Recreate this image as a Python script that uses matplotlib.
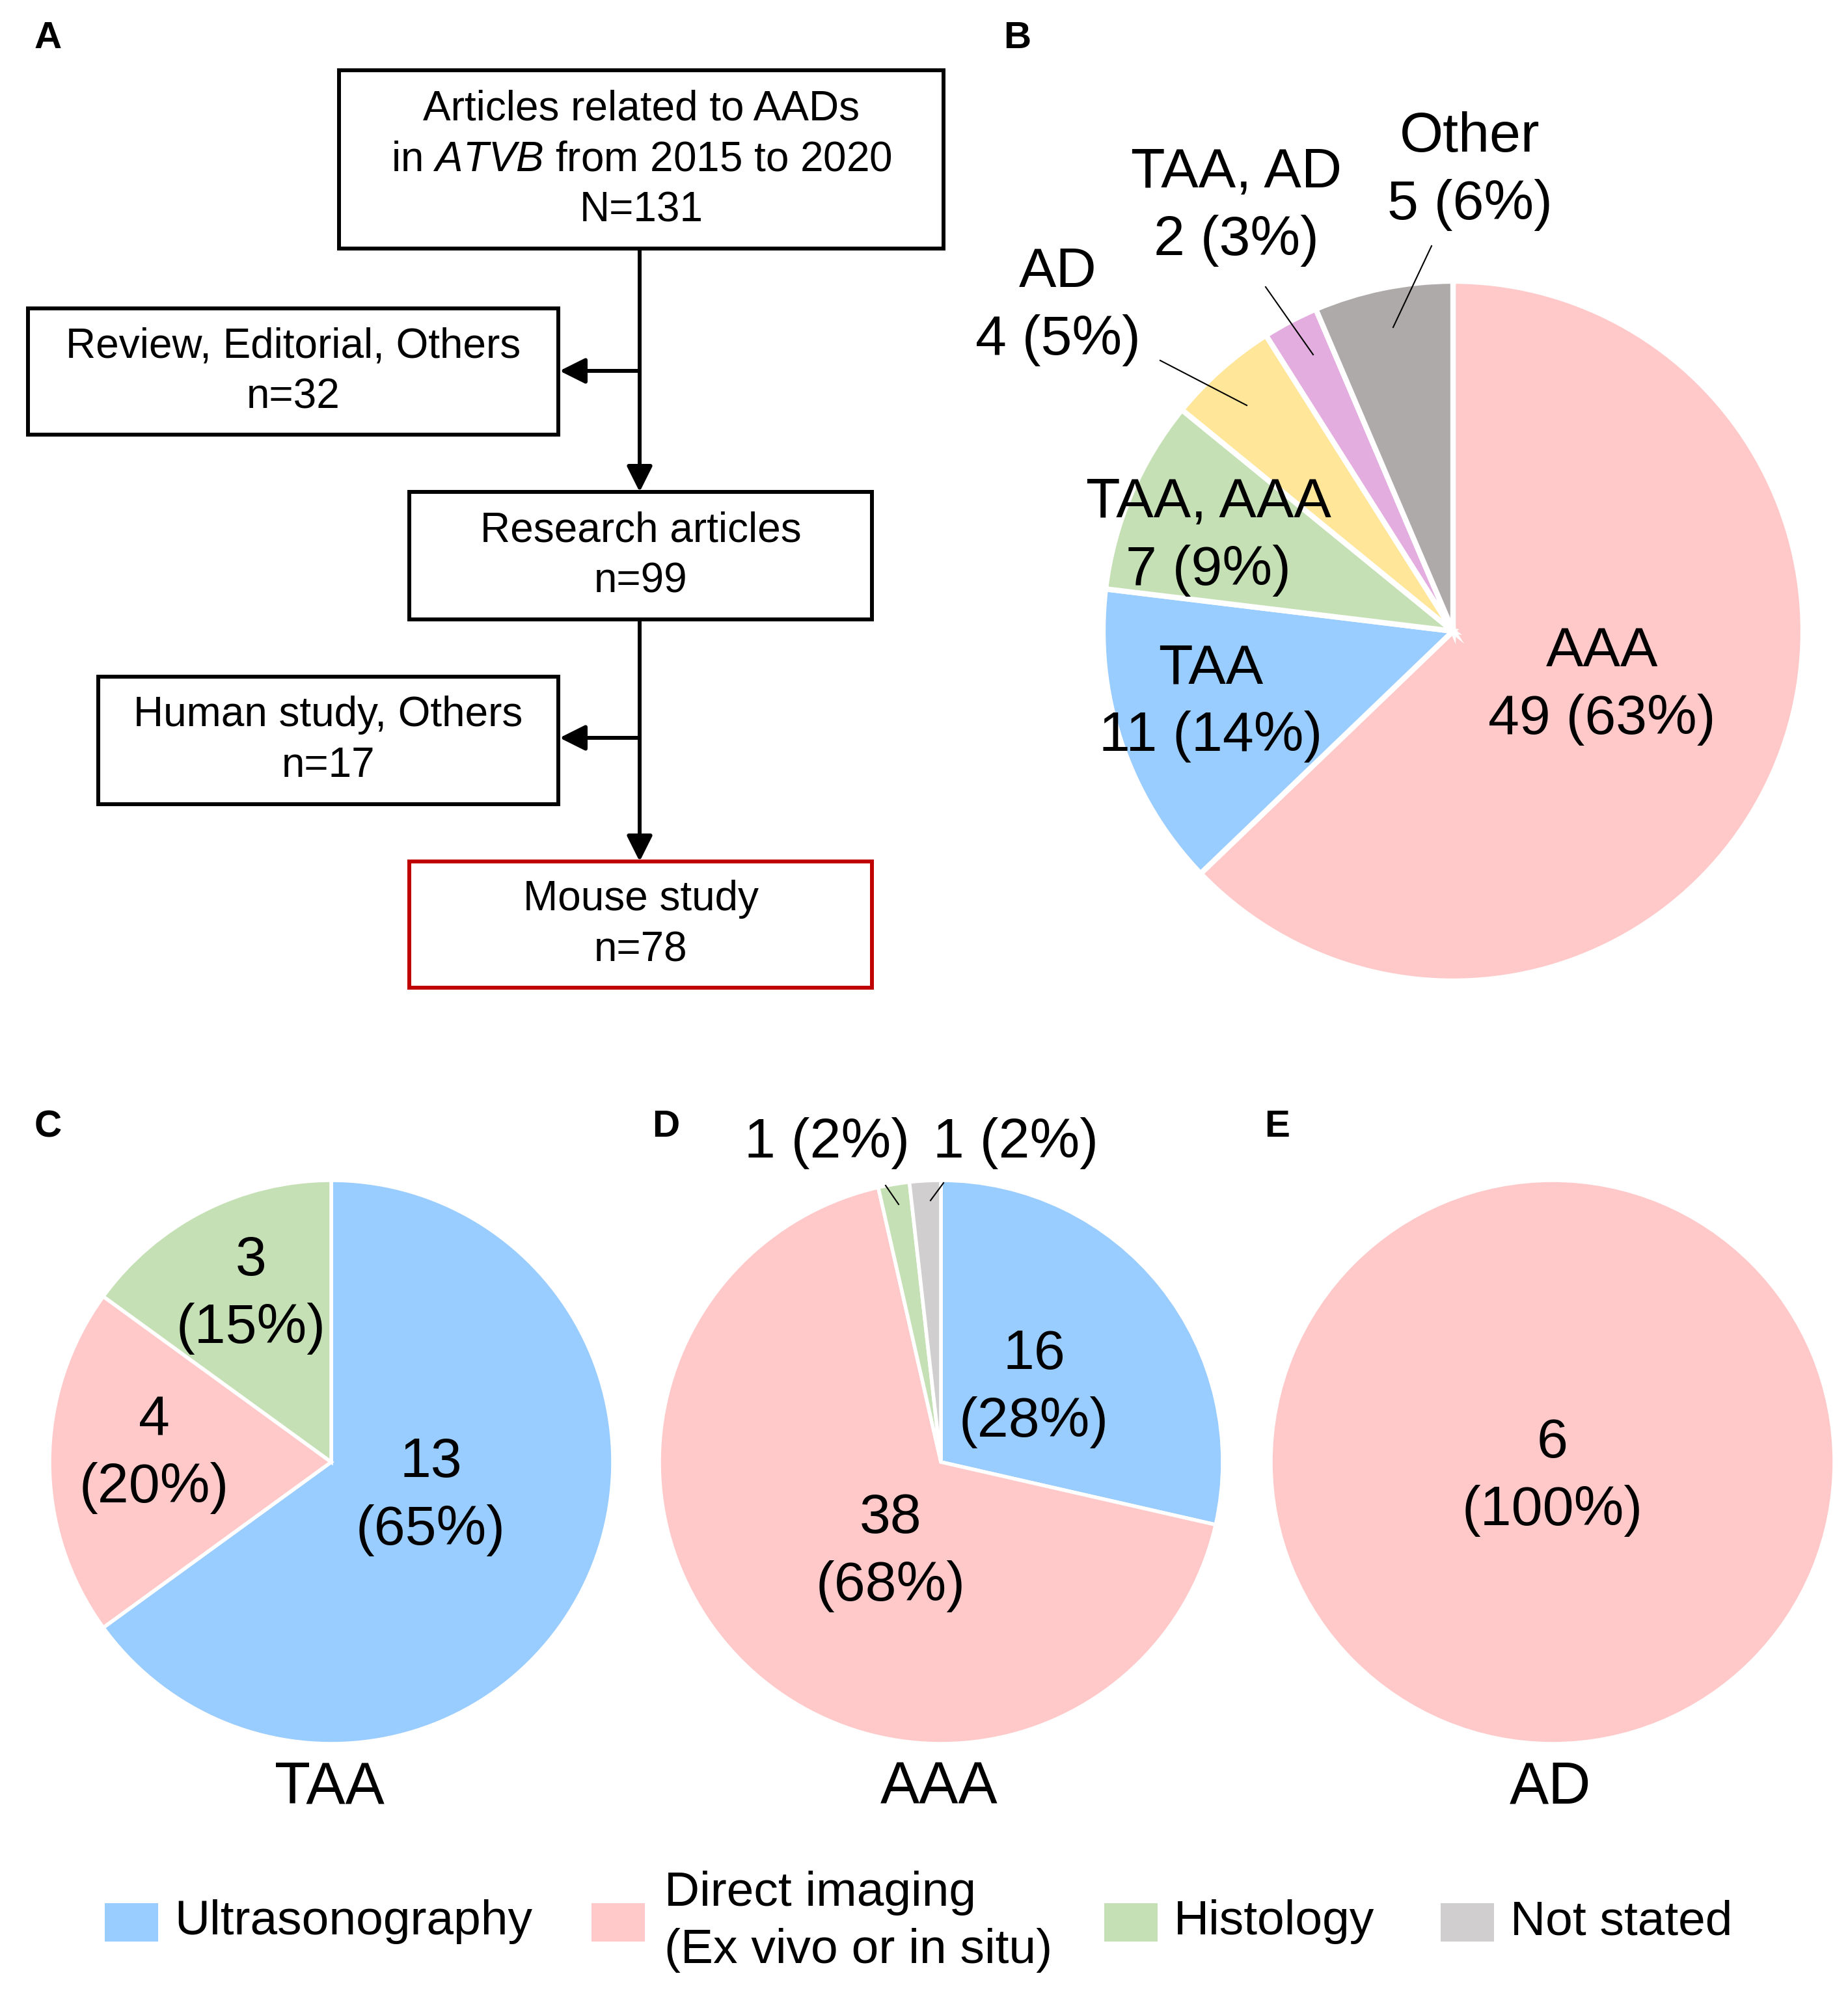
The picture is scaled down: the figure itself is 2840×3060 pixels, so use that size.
import matplotlib
matplotlib.use("Agg")
import matplotlib.pyplot as plt
from matplotlib.patches import Rectangle

# ======================
# DATA
# ======================
b_names = ["AAA", "TAA", "TAA, AAA", "AD", "TAA, AD", "Other"]
b_counts = [49, 11, 7, 4, 2, 5]
b_pcts = [63, 14, 9, 5, 3, 6]

methods = ["Ultrasonography", "Direct imaging\n(Ex vivo or in situ)", "Histology", "Not stated"]

taa_counts = [13, 4, 3]          # Ultrasonography, Direct imaging, Histology
taa_pcts = [65, 20, 15]
aaa_counts = [16, 38, 1, 1]      # Ultrasonography, Direct imaging, Histology, Not stated
aaa_pcts = [28, 68, 2, 2]
ad_counts = [6]                  # Direct imaging
ad_pcts = [100]

flow_titles = ["Articles related to AADs\nin $\\mathit{ATVB}$ from 2015 to 2020",
               "Review, Editorial, Others", "Research articles",
               "Human study, Others", "Mouse study"]
flow_counts = ["N=131", "n=32", "n=99", "n=17", "n=78"]

# ======================
# STYLE
# ======================
plt.rcParams["font.family"] = ["Liberation Sans", "DejaVu Sans"]
plt.rcParams["mathtext.fontset"] = "custom"
plt.rcParams["mathtext.rm"] = "Liberation Sans"
plt.rcParams["mathtext.it"] = "Liberation Sans:italic"

b_colors = ["#FFC9C9", "#99CCFF", "#C5E0B4", "#FFE699", "#E3AEDF", "#AEAAAA"]
m_colors = ["#99CCFF", "#FFC9C9", "#C5E0B4", "#D0CECE"]

W, H = 2840, 3060
fig = plt.figure(figsize=(W / 100, H / 100), dpi=100)
ax = fig.add_axes([0, 0, 1, 1])

FS_FLOW = 46
FS_PIE = 62
FS_LEG = 54
FS_LET = 42

# ======================
# PANEL A - flowchart
# ======================
# boxes: (x0, y0, x1, y1) in pixels
boxes = [(521, 108, 1450, 382), (43, 474, 858, 668), (629, 756, 1340, 952),
         (151, 1040, 858, 1236), (629, 1324, 1340, 1518)]
edge_cols = ["black", "black", "black", "black", "#C00000"]
for (x0, y0, x1, y1), title, cnt, ec in zip(boxes, flow_titles, flow_counts, edge_cols):
    ax.add_patch(Rectangle((x0, y0), x1 - x0, y1 - y0, fill=False, ec=ec, lw=4.3))
    lines = title.split("\n") + [cnt]
    cy = (y0 + y1) / 2
    step = 78
    start = cy - step * (len(lines) - 1) / 2
    for i, ln in enumerate(lines):
        ax.text((x0 + x1) / 2, start + i * step, ln, ha="center", va="center",
                fontsize=FS_FLOW)

xm = 983
arrow_kw = dict(arrowstyle="-|>,head_length=0.8,head_width=0.4", lw=4.3, color="black",
                shrinkA=0, shrinkB=0, mutation_scale=30)
ax.annotate("", xy=(xm, 756), xytext=(xm, 382), arrowprops=arrow_kw)
ax.annotate("", xy=(xm, 1324), xytext=(xm, 952), arrowprops=arrow_kw)
ax.annotate("", xy=(860, 570), xytext=(xm, 570), arrowprops=arrow_kw)
ax.annotate("", xy=(860, 1134), xytext=(xm, 1134), arrowprops=arrow_kw)

# ======================
# PANEL B - pie
# ======================
ax.pie(b_counts, colors=b_colors, center=(2233, 970), radius=538,
       startangle=-90, counterclock=True,
       wedgeprops=dict(edgecolor="white", linewidth=6))

b_lab_pos = [(2462, 1054), (1861, 1080), (1857, 825), (1626, 471), (1900, 318), (2259, 263)]
for name, c, p, (x, y) in zip(b_names, b_counts, b_pcts, b_lab_pos):
    ax.text(x, y - 52, name, ha="center", va="center", fontsize=FS_PIE)
    ax.text(x, y + 52, f"{c} ({p}%)", ha="center", va="center", fontsize=FS_PIE)

for (x0, y0), (x1, y1) in [((1783, 554), (1916, 623)), ((1945, 441), (2018, 545)),
                           ((2200, 378), (2141, 503))]:
    ax.plot([x0, x1], [y0, y1], color="black", lw=1.5)

# ======================
# PANELS C, D, E - pies
# ======================
pie_centers = [(509, 2247), (1446, 2247), (2386, 2247)]
pie_r = 433
sub_counts = [taa_counts, aaa_counts, ad_counts]
sub_pcts = [taa_pcts, aaa_pcts, ad_pcts]
sub_cols = [[m_colors[0], m_colors[1], m_colors[2]], m_colors, [m_colors[1]]]
sub_names = ["TAA", "AAA", "AD"]
sub_lab_pos = [[(662, 2300), (237, 2235), (386, 1990)],
               [(1589, 2134), (1369, 2386), None, None],
               [(2386, 2270)]]

for (cx, cy), cnts, pcts, cols, name, lpos in zip(pie_centers, sub_counts, sub_pcts,
                                                  sub_cols, sub_names, sub_lab_pos):
    ax.pie(cnts, colors=cols, center=(cx, cy), radius=pie_r, startangle=-90,
           counterclock=True, wedgeprops=dict(edgecolor="white", linewidth=4))
    for c, p, pos in zip(cnts, pcts, lpos):
        if pos is None:
            continue
        ax.text(pos[0], pos[1] - 52, f"{c}", ha="center", va="center", fontsize=FS_PIE)
        ax.text(pos[0], pos[1] + 52, f"({p}%)", ha="center", va="center", fontsize=FS_PIE)
    ax.text(cx - 3, 2748, name, ha="center", va="center", fontsize=FS_PIE + 3)

# small AAA slices, labelled outside
ax.text(1271, 1757, f"{aaa_counts[2]} ({aaa_pcts[2]}%)", ha="center", va="center", fontsize=FS_PIE)
ax.text(1561, 1757, f"{aaa_counts[3]} ({aaa_pcts[3]}%)", ha="center", va="center", fontsize=FS_PIE)
ax.plot([1361, 1381], [1822, 1851], color="black", lw=1.5)
ax.plot([1450, 1430], [1818, 1845], color="black", lw=1.5)

# ======================
# PANEL LETTERS
# ======================
for lab, (x, y) in zip("ABCDE", [(74, 59), (1563, 59), (74, 1732), (1023, 1732), (1963, 1732)]):
    ax.text(x, y, lab, ha="center", va="center", fontsize=FS_LET, fontweight="bold")

# ======================
# LEGEND
# ======================
leg_x = [161, 909, 1697, 2214]
for x, col, lab in zip(leg_x, m_colors, methods):
    ax.add_patch(Rectangle((x, 2925), 82, 59, color=col, lw=0))
    lines = lab.split("\n")
    if len(lines) == 1:
        ax.text(x + 107, 2954, lab, ha="left", va="center", fontsize=FS_LEG)
    else:
        ax.text(x + 112, 2909, lines[0], ha="left", va="center", fontsize=FS_LEG)
        ax.text(x + 112, 2997, lines[1], ha="left", va="center", fontsize=FS_LEG)

ax.set_xlim(0, W)
ax.set_ylim(H, 0)
ax.set_aspect("auto")
ax.axis("off")

fig.savefig("out.png", dpi=100, facecolor="white")
